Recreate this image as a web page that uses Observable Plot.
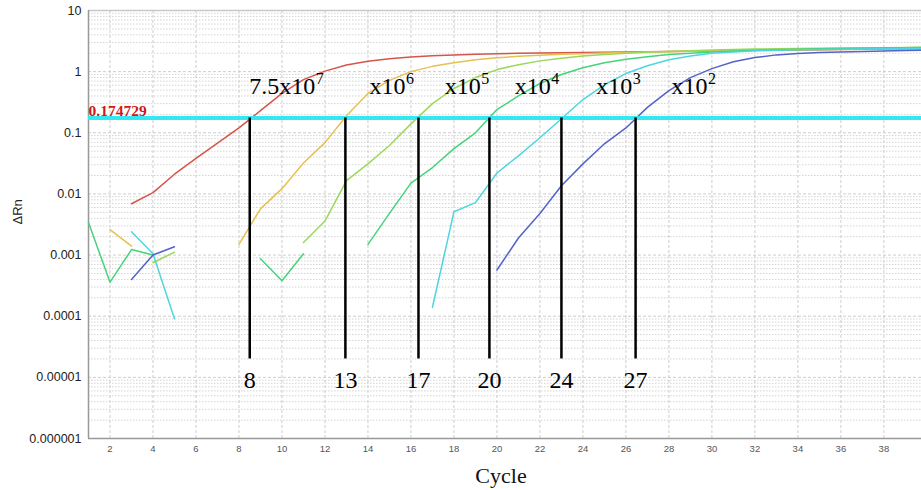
<!DOCTYPE html>
<html><head><meta charset="utf-8">
<script src="https://cdn.jsdelivr.net/npm/d3@7"></script>
<script src="https://cdn.jsdelivr.net/npm/@observablehq/plot@0.6"></script>
<style>
body{margin:0;background:#fff}
g[aria-label^="y-axis"] text{font-size:12.5px;fill:#222;font-family:"Liberation Sans",Arial,sans-serif}
g[aria-label^="x-axis"] text{font-size:9.5px;fill:#555;font-family:"Liberation Sans",Arial,sans-serif}
</style></head><body><div id="chart"></div>
<script>
// ---- data ----
const cycles = d3.range(1, 41);
const seriesNames = ["7.5x10^7", "x10^6", "x10^5", "x10^4", "x10^3", "x10^2"];
const seriesColors = ["#d4554a", "#e5c14f", "#9ad85a", "#45d47a", "#4dd6e0", "#5263c9"];
const red = [null,null,0.0069,0.0105,0.021,0.038,0.068,0.12,0.23,0.44,0.74,1.02,1.28,1.48,1.62,1.74,1.82,1.88,1.93,1.97,2.0,2.02,2.04,2.06,2.08,2.1,2.12,2.14,2.16,2.18,2.2,2.22,2.24,2.26,2.28,2.3,2.32,2.34,2.36,2.38];
const yellow = [null,0.0026,0.0014,null,null,null,null,0.0015,0.0057,0.0122,0.032,0.069,0.19,0.44,0.72,1.0,1.22,1.4,1.56,1.68,1.78,1.86,1.92,1.97,2.02,2.06,2.1,2.13,2.16,2.19,2.22,2.25,2.27,2.29,2.31,2.33,2.35,2.37,2.39,2.4];
const yellowGreen = [null,null,null,0.00075,0.00112,null,null,null,null,null,0.0016,0.0036,0.0165,0.031,0.062,0.14,0.3,0.53,0.8,1.08,1.3,1.5,1.65,1.8,1.9,2.0,2.07,2.13,2.2,2.25,2.3,2.34,2.37,2.4,2.42,2.44,2.46,2.47,2.48,2.5];
const green = [0.0034,0.00036,0.00123,0.001,null,null,null,null,0.00087,0.00038,0.00105,null,null,0.0015,0.0048,0.015,0.027,0.055,0.1,0.24,0.4,0.64,0.9,1.16,1.4,1.6,1.76,1.9,2.0,2.1,2.17,2.23,2.28,2.32,2.36,2.39,2.42,2.45,2.47,2.5];
const cyan = [null,null,0.0024,0.00105,0.000091,null,null,null,null,null,null,null,null,null,null,null,0.00014,0.0051,0.0072,0.022,0.042,0.083,0.17,0.35,0.61,0.93,1.25,1.57,1.8,2.0,2.1,2.2,2.24,2.27,2.3,2.32,2.34,2.36,2.38,2.4];
const blue = [null,null,0.0004,0.001,0.00137,null,null,null,null,null,null,null,null,null,null,null,null,null,null,0.00057,0.0019,0.0048,0.0136,0.031,0.066,0.12,0.26,0.49,0.8,1.12,1.45,1.7,1.88,1.98,2.05,2.1,2.14,2.18,2.21,2.24];
const seriesValues = [red, yellow, yellowGreen, green, cyan, blue];

const threshold = 0.174729;
const thresholdLabel = "0.174729";
const ctCycles = [8.5, 12.95, 16.35, 19.65, 23.0, 26.45];
const ctLabels = ["8", "13", "17", "20", "24", "27"];
const copyBases = ["7.5x10", "x10", "x10", "x10", "x10", "x10"];
const copyExps = ["7", "6", "5", "4", "3", "2"];
const copyLabelX = [11.55, 15.75, 19.25, 22.5, 26.3, 29.8];
const copyLabelY = 0.58;
const ctLabelY = 9e-6;
const ctLineBottom = 2e-5;

const yTicks = [1e-6, 1e-5, 1e-4, 1e-3, 1e-2, 1e-1, 1, 10];
const yTickLabels = ["0.000001", "0.00001", "0.0001", "0.001", "0.01", "0.1", "1", "10"];
const xTicks = d3.range(2, 40, 2);

// ---- build ----
const table = [];
seriesNames.forEach((name, s) => seriesValues[s].forEach((v, i) => table.push({series: name, cycle: cycles[i], value: v})));
const minor = [];
yTicks.slice(0, -1).forEach(d => { for (let k = 2; k <= 9; k++) minor.push(d * k); });
const yLabelMap = new Map(yTicks.map((t, i) => [t, yTickLabels[i]]));
const copyRows = copyBases.map((b, i) => ({x: copyLabelX[i], base: b, exp: copyExps[i]}));
const ctRows = ctCycles.map((c, i) => ({x: c, label: ctLabels[i]}));

const serif = "Liberation Serif, Times New Roman, serif";
const chart = Plot.plot({
  width: 921, height: 490,
  marginLeft: 88, marginRight: 0, marginTop: 10, marginBottom: 52,
  style: {fontFamily: "Liberation Sans, Arial, sans-serif", fontSize: "12.5px", background: "white", color: "#222"},
  x: {domain: [1, 39.75], ticks: xTicks, tickSize: 0, tickPadding: 7, label: null},
  y: {type: "log", domain: [1e-6, 10], ticks: yTicks, tickFormat: d => yLabelMap.get(d), tickSize: 0, tickPadding: 7, label: null},
  color: {domain: seriesNames, range: seriesColors},
  marks: [
    Plot.ruleY(minor, {stroke: "#d4d4d4", strokeDasharray: "1.5,1.5", strokeWidth: 1}),
    Plot.ruleY(yTicks, {stroke: "#cdcdcd", strokeDasharray: "3,2", strokeWidth: 1}),
    Plot.ruleX(xTicks, {stroke: "#cdcdcd", strokeDasharray: "3,2", strokeWidth: 1}),
    Plot.ruleY([10], {stroke: "#c8c8c8", strokeWidth: 1.5}),
    Plot.ruleX([1], {stroke: "#999", strokeWidth: 1.5}),
    Plot.ruleY([1e-6], {stroke: "#999", strokeWidth: 1.5}),
    Plot.line(table, {x: "cycle", y: "value", z: "series", stroke: "series", strokeWidth: 1.5}),
    Plot.ruleY([threshold], {stroke: "#33e8f2", strokeWidth: 4}),
    Plot.ruleX(ctRows, {x: "x", y1: threshold, y2: ctLineBottom, stroke: "black", strokeWidth: 2.5}),
    Plot.text([threshold], {x: 1, y: d => d, text: () => thresholdLabel, textAnchor: "start", dy: -7, fill: "#d01818", fontWeight: "bold", fontSize: 15.5, fontFamily: serif}),
    Plot.text(copyRows, {x: "x", y: () => copyLabelY, text: "base", textAnchor: "end", fontSize: 24, fontFamily: serif, fill: "black"}),
    Plot.text(copyRows, {x: "x", y: () => copyLabelY, text: "exp", textAnchor: "start", dx: 0.5, dy: -7, fontSize: 16, fontFamily: serif, fill: "black"}),
    Plot.text(ctRows, {x: "x", y: () => ctLabelY, text: "label", fontSize: 24, fontFamily: serif, fill: "black"}),
    Plot.text(["Cycle"], {frameAnchor: "bottom", text: d => d, dy: 44, dx: -4, fontSize: 22, fontFamily: serif, fill: "#111"}),
    Plot.text(["ΔRn"], {frameAnchor: "left", text: d => d, rotate: -90, dx: -71, fontSize: 13, fill: "#222"})
  ]
});
document.getElementById("chart").append(chart);
</script></body></html>
